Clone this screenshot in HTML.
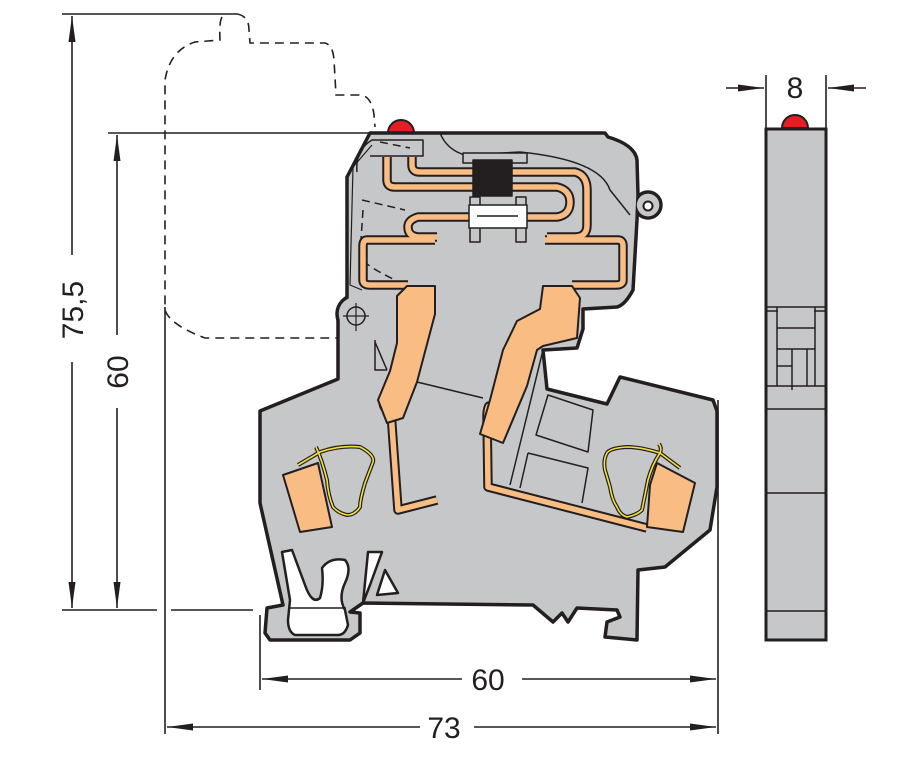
<!DOCTYPE html>
<html><head><meta charset="utf-8"><style>
html,body{margin:0;padding:0;background:#fff;}
svg{display:block;}
text{font-family:"Liberation Sans",sans-serif;font-size:30px;fill:#231f20;}
</style></head><body>
<svg width="919" height="764" viewBox="0 0 919 764" xmlns="http://www.w3.org/2000/svg">
<defs>
<marker id="ar" viewBox="0 0 26 10" refX="26" refY="5" markerWidth="26" markerHeight="12" markerUnits="userSpaceOnUse" orient="auto"><path d="M0,1.5 L26,5 L0,8.5Z" fill="#231f20"/></marker>
</defs>
<g stroke="#231f20" stroke-width="1.6" fill="none">
<line x1="62" y1="14" x2="237" y2="14"/>
<line x1="72" y1="255" x2="72" y2="16" marker-end="url(#ar)"/>
<line x1="72" y1="362" x2="72" y2="608" marker-end="url(#ar)"/>
<line x1="108" y1="133" x2="372" y2="133"/>
<line x1="117" y1="335" x2="117" y2="135" marker-end="url(#ar)"/>
<line x1="117" y1="408" x2="117" y2="608" marker-end="url(#ar)"/>
<line x1="62" y1="610" x2="157" y2="610"/>
<line x1="171" y1="610" x2="253" y2="610"/>
<line x1="165" y1="307" x2="165" y2="734"/>
<line x1="260" y1="615" x2="260" y2="690"/>
<line x1="718" y1="400" x2="718" y2="734"/>
<line x1="462" y1="679" x2="262" y2="679" marker-end="url(#ar)"/>
<line x1="522" y1="679" x2="716" y2="679" marker-end="url(#ar)"/>
<line x1="420" y1="727" x2="167" y2="727" marker-end="url(#ar)"/>
<line x1="474" y1="727" x2="716" y2="727" marker-end="url(#ar)"/>
<line x1="766" y1="75" x2="766" y2="128"/>
<line x1="826" y1="75" x2="826" y2="128"/>
<line x1="726" y1="88" x2="764" y2="88" marker-end="url(#ar)"/>
<line x1="866" y1="88" x2="828" y2="88" marker-end="url(#ar)"/>
<path stroke-dasharray="9,6" d="M237,14 Q249,16 249,30 L250,43 L325,43 Q333,45 334,60 L336,95 L362,95 Q372,98 374,115 L375,127"/>
<path stroke-dasharray="9,6" d="M222,17 Q219,22 220,40 L195,42 Q170,50 165,80 L165,310 Q170,325 205,338 L338,338"/>
</g>
<text x="488" y="690" text-anchor="middle">60</text>
<text x="444" y="738" text-anchor="middle">73</text>
<text x="795" y="98" text-anchor="middle">8</text>
<text transform="translate(83,310) rotate(-90)" text-anchor="middle">75,5</text>
<text transform="translate(128,372) rotate(-90)" text-anchor="middle">60</text>

<path d="M388,133 A13,13 0 0 1 414,133 Z" fill="#e31e24" stroke="#231f20" stroke-width="2"/>
<path d="M782,128 A13,13 0 0 1 808,128 Z" fill="#e31e24" stroke="#231f20" stroke-width="2"/>

<g stroke="#231f20" fill="#c6c7c9">
<rect x="766" y="129" width="60" height="511" stroke-width="3"/>
<g stroke-width="1.5" fill="none">
<line x1="767" y1="307" x2="825" y2="307"/>
<line x1="767" y1="311" x2="778" y2="311"/><line x1="814" y1="311" x2="825" y2="311"/>
<line x1="777" y1="307" x2="777" y2="386"/><line x1="815" y1="307" x2="815" y2="386"/>
<line x1="777" y1="328" x2="815" y2="328"/>
<line x1="777" y1="349" x2="815" y2="349"/>
<line x1="777" y1="366" x2="792" y2="366"/>
<line x1="792" y1="349" x2="792" y2="390"/><line x1="807" y1="349" x2="807" y2="386"/>
<line x1="767" y1="386" x2="825" y2="386"/>
<line x1="767" y1="409" x2="825" y2="409"/>
<line x1="767" y1="493" x2="825" y2="493"/>
<line x1="767" y1="611" x2="825" y2="611"/>
</g>
</g>

<g stroke="#231f20" stroke-linejoin="round">
<circle cx="648" cy="205" r="13" fill="#c6c7c9" stroke-width="3.5"/>
<circle cx="356" cy="314" r="19" fill="#c6c7c9" stroke-width="3.5"/>
<path fill="#c6c7c9" stroke-width="3.5" d="M370,133 L605,133 L608,137 Q635,145 637,160 L638,195 L637,220 L633,290 Q625,305 617,307 L583,309 L583,329 L577,348 L543,350 L547,389 L607,404 L620,377 L713,400 L717,411 L717,487 L710,530 L665,567 L638,570 L637,640 L605,637 L607,622 L620,617 L617,610 L577,608 L568,622 L562,613 L553,622 L533,605 L363,603 L350,612 L360,613 L360,633 L350,640 L270,640 L265,633 L267,608 L283,605 L260,503 L260,411 L338,379 L338,318 L347,305 L347,177 Z"/>
<circle cx="648" cy="205" r="11.2" fill="#c6c7c9" stroke="none"/>
<circle cx="356" cy="314" r="17.2" fill="#c6c7c9" stroke="none"/>
<circle cx="648" cy="206" r="4.5" fill="#fff" stroke-width="2"/>
<path fill="#fff" stroke-width="2.5" d="M282,552 L292,550 L305,585 Q312,605 320,598 Q324,585 322,568 Q330,557 345,560 Q352,568 345,583 Q338,598 345,610 L348,625 Q345,635 338,635 L295,635 Q288,632 288,620 L290,600 Z"/>
<path fill="none" stroke-width="1.5" d="M288,608 L346,608"/>
<path fill="#fff" stroke-width="2.5" d="M363,603 L368,552 L382,552 L370,585 Z"/>
<path fill="#fff" stroke-width="2.5" d="M385,570 L398,593 L377,595 Z"/>
<circle cx="356" cy="316" r="9" fill="none" stroke-width="1.5"/>
<line x1="343" y1="316" x2="369" y2="316" stroke-width="1.2"/>
<line x1="356" y1="303" x2="356" y2="331" stroke-width="1.2"/>
<g fill="none" stroke-width="1.5">
<path d="M357,172 Q355,150 372,140 L423,140 L423,156 L370,156"/>
<path d="M440,133 Q447,150 465,155 L520,152 Q600,160 610,190 L630,215"/>
<path d="M375,340 L375,370 L387,370 M375,342 L387,370"/>
<path d="M417,382 L483,398"/>
<path d="M543,350 L510,485"/>
<path d="M536,435 L548,395 L593,410 L588,452 Z"/>
<path d="M528,453 L588,468 L582,503"/>
<path d="M520,488 L528,453"/>
<path d="M372,145 L353,167 L350,285 L362,290" stroke-width="1.2"/>
</g>
<g fill="none" stroke-width="1.5" stroke-dasharray="8,5">
<path d="M380,142 L410,148 M362,200 L405,210 M363,210 L360,255 Q360,263 395,280 L400,295"/>
</g>
<g fill="none" stroke-linecap="butt">
<g stroke="#231f20" stroke-width="9.5">
<path d="M387,157 V180 Q387,187 395,187 H473"/>
<path d="M412,157 V165 Q412,172 420,172 H473"/>
<path d="M512,172 H575 Q587,175 587,190 V225 Q587,237 575,237 H547"/>
<path d="M512,187 H557 Q570,190 570,202 Q570,215 557,217 H527"/>
<path d="M470,217 H418 Q408,220 408,227 Q408,236 418,237 H437"/>
<path d="M435,240 H367 Q363,240 363,246 V280 Q363,285 370,285 H408"/>
<path d="M545,240 H618 Q623,240 623,246 V280 Q623,285 616,285 H572"/>
<path d="M385,408 Q380,400 390,398 L398,510 L437,500"/>
<path d="M492,410 Q488,400 487,415 L488,487 L647,528"/>
</g>
<g stroke="#f9bc82" stroke-width="5.5">
<path d="M387,157 V180 Q387,187 395,187 H473"/>
<path d="M412,157 V165 Q412,172 420,172 H473"/>
<path d="M512,172 H575 Q587,175 587,190 V225 Q587,237 575,237 H547"/>
<path d="M512,187 H557 Q570,190 570,202 Q570,215 557,217 H527"/>
<path d="M470,217 H418 Q408,220 408,227 Q408,236 418,237 H437"/>
<path d="M435,240 H367 Q363,240 363,246 V280 Q363,285 370,285 H408"/>
<path d="M545,240 H618 Q623,240 623,246 V280 Q623,285 616,285 H572"/>
<path d="M385,408 Q380,400 390,398 L398,510 L437,500"/>
<path d="M492,410 Q488,400 487,415 L488,487 L647,528"/>
</g>
</g>
<rect x="463" y="153" width="64" height="10" fill="#c6c7c9" stroke-width="1.5"/>
<rect x="473" y="160" width="39" height="36" fill="#231f20" stroke-width="1.5"/>
<rect x="470" y="197" width="10" height="45" fill="#c6c7c9" stroke-width="1.5"/>
<rect x="516" y="197" width="10" height="45" fill="#c6c7c9" stroke-width="1.5"/>
<rect x="469" y="205" width="58" height="23" fill="#fff" stroke-width="1.5"/>
<line x1="477" y1="216" x2="518" y2="216" stroke-width="1.5"/>
<path fill="#f9bc82" stroke-width="2" d="M397,296 L407,286 L435,286 L435,314 L417,382 L403,418 L387,423 L378,400 L390,371 L397,343 Z"/>
<path fill="#f9bc82" stroke-width="2" d="M543,286 L572,286 L580,298 L577,338 L543,346 L537,350 L527,386 L503,443 L480,434 L490,400 L503,350 L517,321 L540,309 Z"/>
<path fill="#f9bc82" stroke-width="2" d="M283,475 L318,463 L332,527 L300,532 Z"/>
<path fill="#f9bc82" stroke-width="2" d="M650,485 L657,463 L695,483 L683,532 L647,527 Z"/>
</g>
<g fill="none" stroke-linejoin="round">
<path stroke="#231f20" stroke-width="4" d="M298,465 L320,452 Q340,445 360,447 Q375,455 373,462 Q368,475 365,483 Q360,500 360,507 Q355,515 347,515 Q338,513 333,507 Q328,495 327,480 Q322,460 316,447"/>
<path stroke="#f4e03a" stroke-width="1.6" d="M298,465 L320,452 Q340,445 360,447 Q375,455 373,462 Q368,475 365,483 Q360,500 360,507 Q355,515 347,515 Q338,513 333,507 Q328,495 327,480 Q322,460 316,447"/>
<path stroke="#231f20" stroke-width="4" d="M680,468 L660,453 Q640,447 627,447 Q610,448 607,453 Q603,460 605,470 Q608,480 610,487 Q612,500 617,507 Q620,515 627,517 Q637,515 642,510 Q645,495 648,480 Q652,465 660,453 Q662,448 659,444"/>
<path stroke="#f4e03a" stroke-width="1.6" d="M680,468 L660,453 Q640,447 627,447 Q610,448 607,453 Q603,460 605,470 Q608,480 610,487 Q612,500 617,507 Q620,515 627,517 Q637,515 642,510 Q645,495 648,480 Q652,465 660,453 Q662,448 659,444"/>
</g>
</svg>
</body></html>
